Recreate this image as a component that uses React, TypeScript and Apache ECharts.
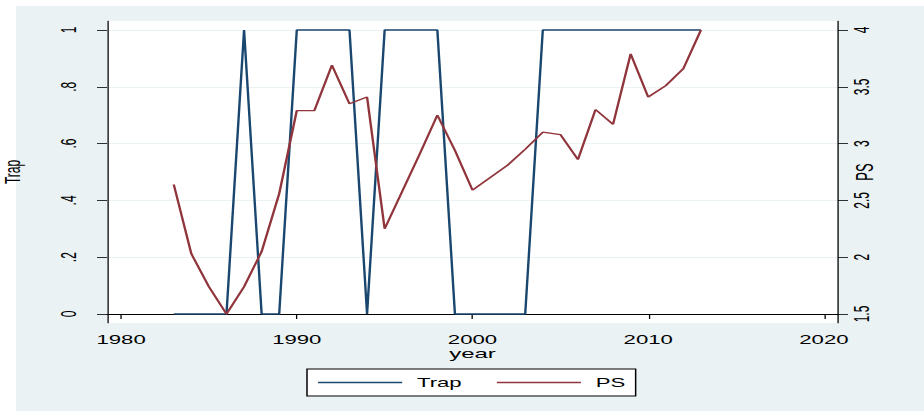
import React, { useEffect, useRef } from 'react';
import * as echarts from 'echarts';

// ---- data ----
const years = [1983, 1984, 1985, 1986, 1987, 1988, 1989, 1990, 1991, 1992, 1993, 1994, 1995, 1996, 1997, 1998, 1999, 2000, 2001, 2002, 2003, 2004, 2005, 2006, 2007, 2008, 2009, 2010, 2011, 2012, 2013];
const trap = [0, 0, 0, 0, 1, 0, 0, 1, 1, 1, 1, 0, 1, 1, 1, 1, 0, 0, 0, 0, 0, 1, 1, 1, 1, 1, 1, 1, 1, 1, 1];
const ps = [2.64, 2.03, 1.74, 1.5, 1.74, 2.05, 2.56, 3.29, 3.29, 3.69, 3.35, 3.41, 2.25, 2.58, 2.91, 3.25, 2.94, 2.59, 2.7, 2.81, 2.95, 3.1, 3.08, 2.86, 3.3, 3.17, 3.79, 3.41, 3.51, 3.66, 4.0];
const xTicks = [1980, 1990, 2000, 2010, 2020];
const leftTicks = [0, 0.2, 0.4, 0.6, 0.8, 1];
const leftTickLabels = ['0', '.2', '.4', '.6', '.8', '1'];
const rightTicks = [1.5, 2, 2.5, 3, 3.5, 4];
const rightTickLabels = ['1.5', '2', '2.5', '3', '3.5', '4'];

// ---- layout (the reference is horizontally stretched) ----
const S = 1.848;
const W = 500;
const H = 411;
const FONT = '"Liberation Sans", Arial, sans-serif';
const TRAP_COLOR = '#1A476F';
const PS_COLOR = '#90353B';
const BG = '#EAF2F3';
const LEGEND_ICON = 'path://M0,0 H100 V3 H0 Z';

export default function App() {
  const ref = useRef<HTMLDivElement>(null);
  useEffect(() => {
    if (!ref.current) return;
    const chart = echarts.init(ref.current, undefined, { renderer: 'svg' });
    const txt = { color: '#000', fontFamily: FONT, fontSize: 12 };
    chart.setOption({
      animation: false,
      backgroundColor: '#fff',
      graphic: [
        {
          type: 'rect',
          z: -100,
          silent: true,
          shape: { x: 16 / S, y: 6, width: W, height: H },
          style: { fill: BG },
        },
      ],
      grid: {
        show: true,
        backgroundColor: '#fff',
        borderWidth: 0,
        left: 107 / S,
        right: W - 838 / S,
        top: 21,
        bottom: 88,
        containLabel: false,
        outerBoundsMode: 'none',
      },
      legend: {
        data: [
          { name: 'Trap', icon: LEGEND_ICON },
          { name: 'PS', icon: LEGEND_ICON },
        ],
        left: 307 / S,
        top: 369,
        orient: 'horizontal',
        itemWidth: 45.5,
        itemHeight: 12,
        itemGap: 19,
        padding: [7.5, 5.6, 7.5, 6],
        backgroundColor: '#fff',
        borderColor: '#000',
        borderWidth: 0.8,
        borderRadius: 0,
        textStyle: { ...txt, padding: [0, 0, 0, 3] },
      },
      xAxis: {
        type: 'value',
        min: 1979.2,
        max: 2020.8,
        name: 'year',
        nameLocation: 'middle',
        nameGap: 24,
        nameMoveOverlap: false,
        nameTextStyle: { ...txt, fontSize: 13 },
        axisLine: { show: true, lineStyle: { color: '#000', width: 0.8 } },
        axisTick: { show: true, length: 5, customValues: xTicks, lineStyle: { color: '#000', width: 0.7 } },
        axisLabel: { ...txt, margin: 11, customValues: xTicks, formatter: (v: number) => String(v) },
        splitLine: { show: false },
      },
      yAxis: [
        {
          type: 'value',
          position: 'left',
          min: -9 / 284,
          max: 1 + 9 / 284,
          name: 'Trap',
          nameLocation: 'middle',
          nameRotate: 90,
          nameGap: 45,
          nameMoveOverlap: false,
          nameTextStyle: { ...txt, fontSize: 12 },
          axisLine: { show: true, lineStyle: { color: '#000', width: 0.7 } },
          axisTick: { show: true, length: 10 / S, customValues: leftTicks, lineStyle: { color: '#000', width: 0.8 } },
          axisLabel: {
            ...txt,
            rotate: 90,
            margin: 15,
            customValues: leftTicks,
            formatter: (v: number) => {
              const i = leftTicks.findIndex((t) => Math.abs(t - v) < 1e-6);
              return i >= 0 ? leftTickLabels[i] : '';
            },
          },
          splitLine: { show: true, lineStyle: { color: BG, width: 1 } },
        },
        {
          type: 'value',
          position: 'right',
          min: 1.5 - 9 / 113.6,
          max: 4 + 9 / 113.6,
          name: 'PS',
          nameLocation: 'middle',
          nameRotate: 90,
          nameGap: 8,
          nameMoveOverlap: false,
          nameTextStyle: { ...txt, fontSize: 13 },
          axisLine: { show: true, lineStyle: { color: '#000', width: 0.7 } },
          axisTick: { show: true, length: 10 / S, customValues: rightTicks, lineStyle: { color: '#000', width: 0.8 } },
          axisLabel: {
            ...txt,
            rotate: 90,
            margin: 6.5,
            customValues: rightTicks,
            formatter: (v: number) => {
              const i = rightTicks.findIndex((t) => Math.abs(t - v) < 1e-6);
              return i >= 0 ? rightTickLabels[i] : '';
            },
          },
          splitLine: { show: false },
        },
      ],
      series: [
        {
          name: 'Trap',
          type: 'line',
          yAxisIndex: 0,
          symbol: 'none',
          color: TRAP_COLOR,
          lineStyle: { color: TRAP_COLOR, width: 1.3 },
          data: years.map((y, i) => [y, trap[i]]),
        },
        {
          name: 'PS',
          type: 'line',
          yAxisIndex: 1,
          symbol: 'none',
          color: PS_COLOR,
          lineStyle: { color: PS_COLOR, width: 1.3 },
          data: years.map((y, i) => [y, ps[i]]),
        },
      ],
    });
    return () => chart.dispose();
  }, []);

  return (
    <div style={{ position: 'fixed', left: 0, top: 0, width: 924, height: 411, overflow: 'hidden', background: '#fff' }}>
      <div
        ref={ref}
        style={{ width: W, height: H, transform: `scaleX(${S})`, transformOrigin: '0 0' }}
      />
    </div>
  );
}
